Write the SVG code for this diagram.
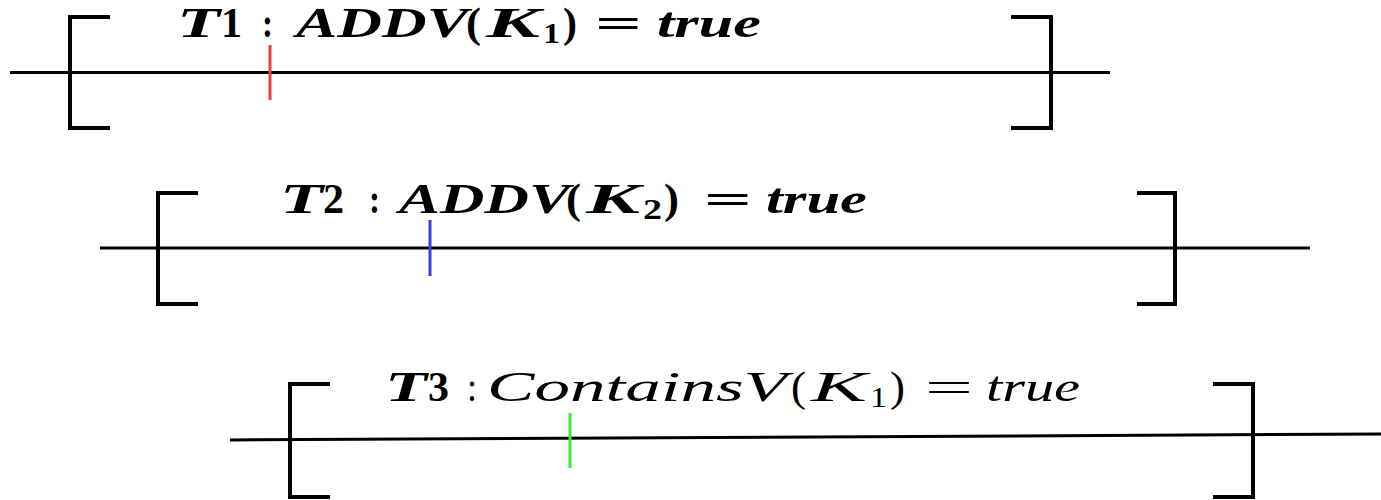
<svg xmlns="http://www.w3.org/2000/svg" width="1381" height="500" viewBox="0 0 1381 500">
<style>
.ln{stroke:#000;stroke-width:3;fill:none}
.br{stroke:#000;stroke-width:4;fill:none}
text{font-family:"Liberation Serif","DejaVu Serif",serif;font-size:42px;fill:#000}
.it{font-style:italic}
.b{font-weight:bold}
.sub{font-size:29px}
</style>
<rect width="1381" height="500" fill="#fff"/>
<g id="connectors">
<line class="ln" x1="10" y1="72.5" x2="1110" y2="72.5"/>
<line class="ln" x1="100" y1="248" x2="1310" y2="248"/>
<line class="ln" x1="230" y1="440" x2="1381" y2="434"/>
</g>
<g id="t1">
<path class="br" d="M110 17H70V128H110"/>
<path class="br" d="M1011 17H1051V128H1011"/>
<line x1="270" y1="45" x2="270" y2="100" stroke="#f03c3c" stroke-width="3"/>
<g font-weight="bold">
<text class="it" x="177" y="37" textLength="43" lengthAdjust="spacingAndGlyphs">T</text>
<text x="221" y="37" textLength="21" lengthAdjust="spacingAndGlyphs">1</text>
<text x="262" y="37" textLength="11" lengthAdjust="spacingAndGlyphs">:</text>
<text class="it" x="296" y="37" textLength="172" lengthAdjust="spacingAndGlyphs">ADDV</text>
<text x="466" y="37" textLength="15" lengthAdjust="spacingAndGlyphs">(</text>
<text class="it" x="486" y="37" textLength="54" lengthAdjust="spacingAndGlyphs">K</text>
<text class="sub" x="543" y="43" textLength="17" lengthAdjust="spacingAndGlyphs">1</text>
<text x="563" y="37" textLength="14" lengthAdjust="spacingAndGlyphs">)</text>
<text x="595" y="37" textLength="47" lengthAdjust="spacingAndGlyphs">=</text>
<text class="it" x="657" y="37" textLength="104" lengthAdjust="spacingAndGlyphs">true</text>
</g>
</g>
<g id="t2">
<path class="br" d="M198 193H158V304H198"/>
<path class="br" d="M1137 193H1175V304H1137"/>
<line x1="430" y1="220" x2="430" y2="276" stroke="#3c3cdc" stroke-width="3"/>
<g font-weight="bold">
<text class="it" x="280" y="213" textLength="43" lengthAdjust="spacingAndGlyphs">T</text>
<text x="323" y="213" textLength="21" lengthAdjust="spacingAndGlyphs">2</text>
<text x="369" y="213" textLength="11" lengthAdjust="spacingAndGlyphs">:</text>
<text class="it" x="399" y="213" textLength="171" lengthAdjust="spacingAndGlyphs">ADDV</text>
<text x="566" y="213" textLength="15" lengthAdjust="spacingAndGlyphs">(</text>
<text class="it" x="586" y="213" textLength="54" lengthAdjust="spacingAndGlyphs">K</text>
<text class="sub" x="643" y="219" textLength="19" lengthAdjust="spacingAndGlyphs">2</text>
<text x="664" y="213" textLength="15" lengthAdjust="spacingAndGlyphs">)</text>
<text x="704" y="213" textLength="48" lengthAdjust="spacingAndGlyphs">=</text>
<text class="it" x="766" y="213" textLength="101" lengthAdjust="spacingAndGlyphs">true</text>
</g>
</g>
<g id="t3">
<path class="br" d="M330 384H290V497H330"/>
<path class="br" d="M1213 384H1253V497H1213"/>
<line x1="570" y1="413" x2="570" y2="468" stroke="#3ce63c" stroke-width="3"/>
<text class="it b" x="385" y="401" textLength="42" lengthAdjust="spacingAndGlyphs">T</text>
<text class="b" x="428" y="401" textLength="21" lengthAdjust="spacingAndGlyphs">3</text>
<text x="467" y="401" textLength="10" lengthAdjust="spacingAndGlyphs">:</text>
<text class="it" x="487" y="401" textLength="300" lengthAdjust="spacingAndGlyphs">ContainsV</text>
<text x="791" y="401" textLength="15" lengthAdjust="spacingAndGlyphs">(</text>
<text class="it" x="811" y="401" textLength="56" lengthAdjust="spacingAndGlyphs">K</text>
<text class="sub" x="870" y="407" textLength="17" lengthAdjust="spacingAndGlyphs">1</text>
<text x="890" y="401" textLength="15" lengthAdjust="spacingAndGlyphs">)</text>
<text x="925" y="401" textLength="48" lengthAdjust="spacingAndGlyphs">=</text>
<text class="it" x="986" y="401" textLength="94" lengthAdjust="spacingAndGlyphs">true</text>
</g>
</svg>
